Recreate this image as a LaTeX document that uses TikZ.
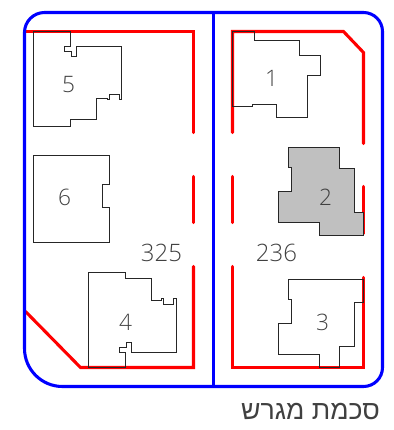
\documentclass[tikz,border=0pt]{standalone}
\usepackage{fontspec}
\setmainfont{Open Sans Light}
\newfontfamily\hebfont[Script=Hebrew]{Liberation Sans}
\TeXXeTstate=1
\definecolor{plotred}{RGB}{255,0,0}
\definecolor{lotblue}{RGB}{0,0,255}
\definecolor{roofgrey}{RGB}{192,192,192}
\definecolor{labelgrey}{RGB}{64,64,64}
\tikzset{
	redline/.style={draw=plotred, line width=2.3pt, line cap=round, line join=miter},
	blueline/.style={draw=lotblue, line width=2.3pt},
	house/.style={draw=black!85, line width=0.75pt, line join=miter},
	lotnum/.style={text=labelgrey, font=\fontsize{17}{17}\selectfont, inner sep=0pt},
	roadnum/.style={text=labelgrey, font=\fontsize{18}{18}\selectfont, inner sep=0pt}
}

\begin{document}
\begin{tikzpicture}[x=0.75pt, y=-0.75pt]
	\useasboundingbox (-0.5,-0.5) rectangle (393.5,429.5);

	\draw[redline] (24,31) -- (193,31) -- (193,132);
	\draw[redline] (193,176) -- (193,222);
	\draw[redline] (193,266) -- (193,367) -- (80,367) -- (25,311);
	\draw[redline] (232,132) -- (232,31) -- (343,31) -- (363,52) -- (363,143);
	\draw[redline] (363,186) -- (363,233);
	\draw[redline] (363,277) -- (363,367) -- (232,367) -- (232,266);
	\draw[redline] (232,176) -- (232,222);

	\draw[blueline] (44,12) -- (363,12) arc[start angle=-90, end angle=0, radius=19]
		-- (382,367) arc[start angle=0, end angle=90, radius=19]
		-- (62,386) arc[start angle=90, end angle=180, radius=38]
		-- (24,32) arc[start angle=180, end angle=270, radius=20] -- cycle;
	\draw[blueline] (213,12) -- (213,386);

	\draw[house] (33,31) -- (70,31) -- (70,46) -- (64,46) -- (64,51) -- (71,51) -- (71,56) -- (76,56) -- (76,46) -- (121,46) -- (121,99) -- (119,99) -- (119,94) -- (109,94) -- (109,99) -- (107,99) -- (107,98) -- (96,98) -- (96,119) -- (70,119) -- (70,126) -- (33,126) -- cycle;
	\draw[house] (33,155) -- (109,155) -- (109,184) -- (102,184) -- (102,207) -- (109,207) -- (109,242) -- (33,242) -- cycle;
	\draw[house] (88,272) -- (125,272) -- (125,278) -- (151,278) -- (151,300) -- (161,300) -- (161,298) -- (163,298) -- (163,304) -- (173,304) -- (173,298) -- (176,298) -- (176,352) -- (131,352) -- (131,342) -- (126,342) -- (126,347) -- (119,347) -- (119,352) -- (125,352) -- (125,367) -- (88,367) -- cycle;
	\draw[house] (232,31) -- (254,31) -- (254,40) -- (299,40) -- (299,55) -- (320,55) -- (320,75) -- (307,75) -- (307,117) -- (276,117) -- (276,104) -- (252,104) -- (252,106) -- (232,106) -- cycle;
	\draw[house, fill=roofgrey] (288,147) -- (339,147) -- (339,168) -- (354,168) -- (354,212) -- (363,212) -- (363,235) -- (319,235) -- (319,222) -- (278,222) -- (278,191) -- (291,191) -- (291,167) -- (288,167) -- cycle;
	\draw[house] (288,279) -- (363,279) -- (363,302) -- (354,302) -- (354,346) -- (339,346) -- (339,367) -- (319,367) -- (319,354) -- (278,354) -- (278,323) -- (291,323) -- (291,299) -- (288,299) -- cycle;

	\node[lotnum] (lot_1) at (271,78) {1};
	\node[lotnum] (lot_2) at (325,197) {2};
	\node[lotnum] (lot_3) at (322,322) {3};
	\node[lotnum] (lot_4) at (125,322) {4};
	\node[lotnum] (lot_5) at (68,84) {5};
	\node[lotnum] (lot_6) at (64,197) {6};
	\node[roadnum] (road_l) at (161,252) {325};
	\node[roadnum] (road_r) at (276,252) {236};
	\node[roadnum, font=\hebfont\fontsize{20}{20}\selectfont] (title) at (310,411) {\beginR סכמת מגרש\endR};
\end{tikzpicture}
\end{document}
